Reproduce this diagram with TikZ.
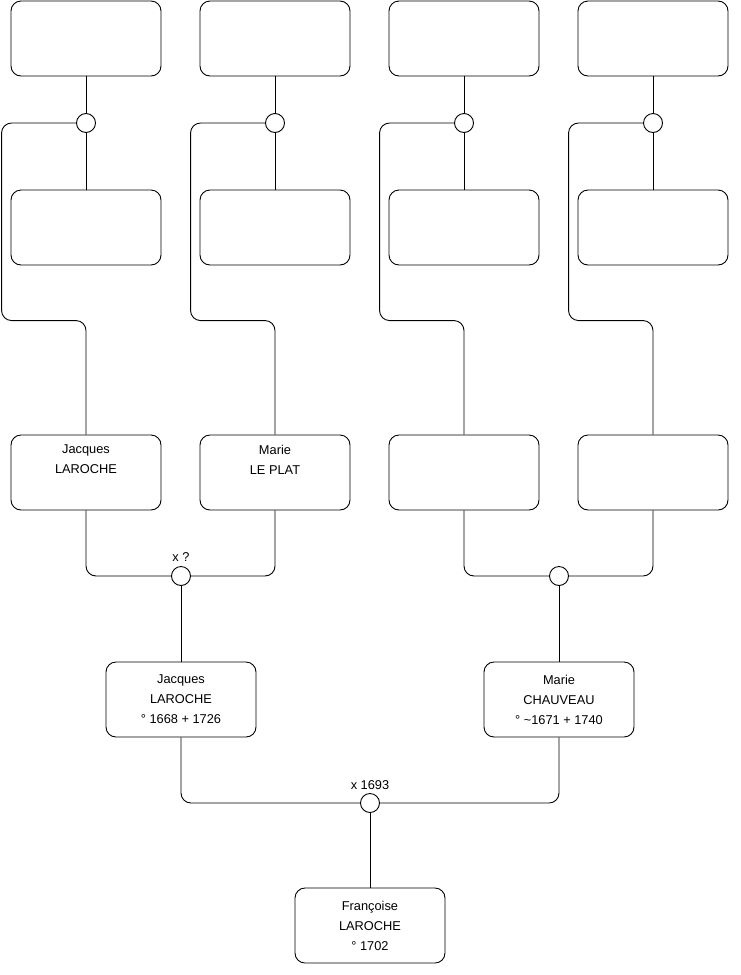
\documentclass[tikz,border=0pt]{standalone}
\usepackage{fontspec}
\setmainfont{Liberation Sans}
\begin{document}
\begin{tikzpicture}[x=1pt,y=1pt,
  person/.style={draw=black, line width=0.9pt, rounded corners=10pt, minimum width=150pt, minimum height=75pt,
    inner sep=0pt, align=center, font=\fontsize{12.8}{20}\selectfont},
  junction/.style={circle, draw=black, line width=0.9pt, fill=white, minimum size=19pt, inner sep=0pt},
  link/.style={draw=black, line width=0.9pt, rounded corners=10pt},
  lbl/.style={font=\fontsize{12.8}{14}\selectfont, inner sep=0pt}]
\useasboundingbox (0,0) rectangle (740,-975);
% row 1 (top)
\node[person] (t1) at (86,-38.5) {};
\node[person] (t2) at (275,-38.5) {};
\node[person] (t3) at (464,-38.5) {};
\node[person] (t4) at (653,-38.5) {};
% junctions row 1
\node[junction] (c1) at (86,-123) {};
\node[junction] (c2) at (275,-123) {};
\node[junction] (c3) at (464,-123) {};
\node[junction] (c4) at (653,-123) {};
% row 2
\node[person] (s1) at (86,-227.5) {};
\node[person] (s2) at (275,-227.5) {};
\node[person] (s3) at (464,-227.5) {};
\node[person] (s4) at (653,-227.5) {};
% row 3
\node[person] (r1) at (86,-472.5) {Jacques\\LAROCHE\\\strut};
\node[person] (r2) at (275,-472.5) {Marie\\LE PLAT\\\strut};
\node[person] (r3) at (464,-472.5) {};
\node[person] (r4) at (653,-472.5) {};
% junctions row 3
\node[junction] (j1) at (181,-576) {};
\node[junction] (j2) at (559,-576) {};
\node[lbl] (l1) at (181,-557) {x ?};
% row 4
\node[person] (p1) at (181,-699.5) {Jacques\\LAROCHE\\° 1668 + 1726};
\node[person] (p2) at (559,-699.5) {Marie\\CHAUVEAU\\° \textasciitilde1671 + 1740};
% bottom junction
\node[junction] (j3) at (370,-803) {};
\node[lbl] (l3) at (370,-785) {x 1693};
\node[person] (f) at (370,-925.5) {Françoise\\LAROCHE\\° 1702};
% connectors top
\foreach \i in {1,2,3,4}{
  \draw[link] (t\i.south) -- (c\i.north);
  \draw[link] (c\i.south) -- (s\i.north);
  \draw[link] (c\i.west) -- ++(-74.5,0) |- ([yshift=114pt]r\i.north) -- (r\i.north);
}
% connectors row 3 -> row 4
\draw[link] (r1.south) |- (j1.west);
\draw[link] (r2.south) |- (j1.east);
\draw[link] (j1.south) -- (p1.north);
\draw[link] (r3.south) |- (j2.west);
\draw[link] (r4.south) |- (j2.east);
\draw[link] (j2.south) -- (p2.north);
% connectors row 4 -> bottom
\draw[link] (p1.south) |- (j3.west);
\draw[link] (p2.south) |- (j3.east);
\draw[link] (j3.south) -- (f.north);
\end{tikzpicture}
\end{document}
